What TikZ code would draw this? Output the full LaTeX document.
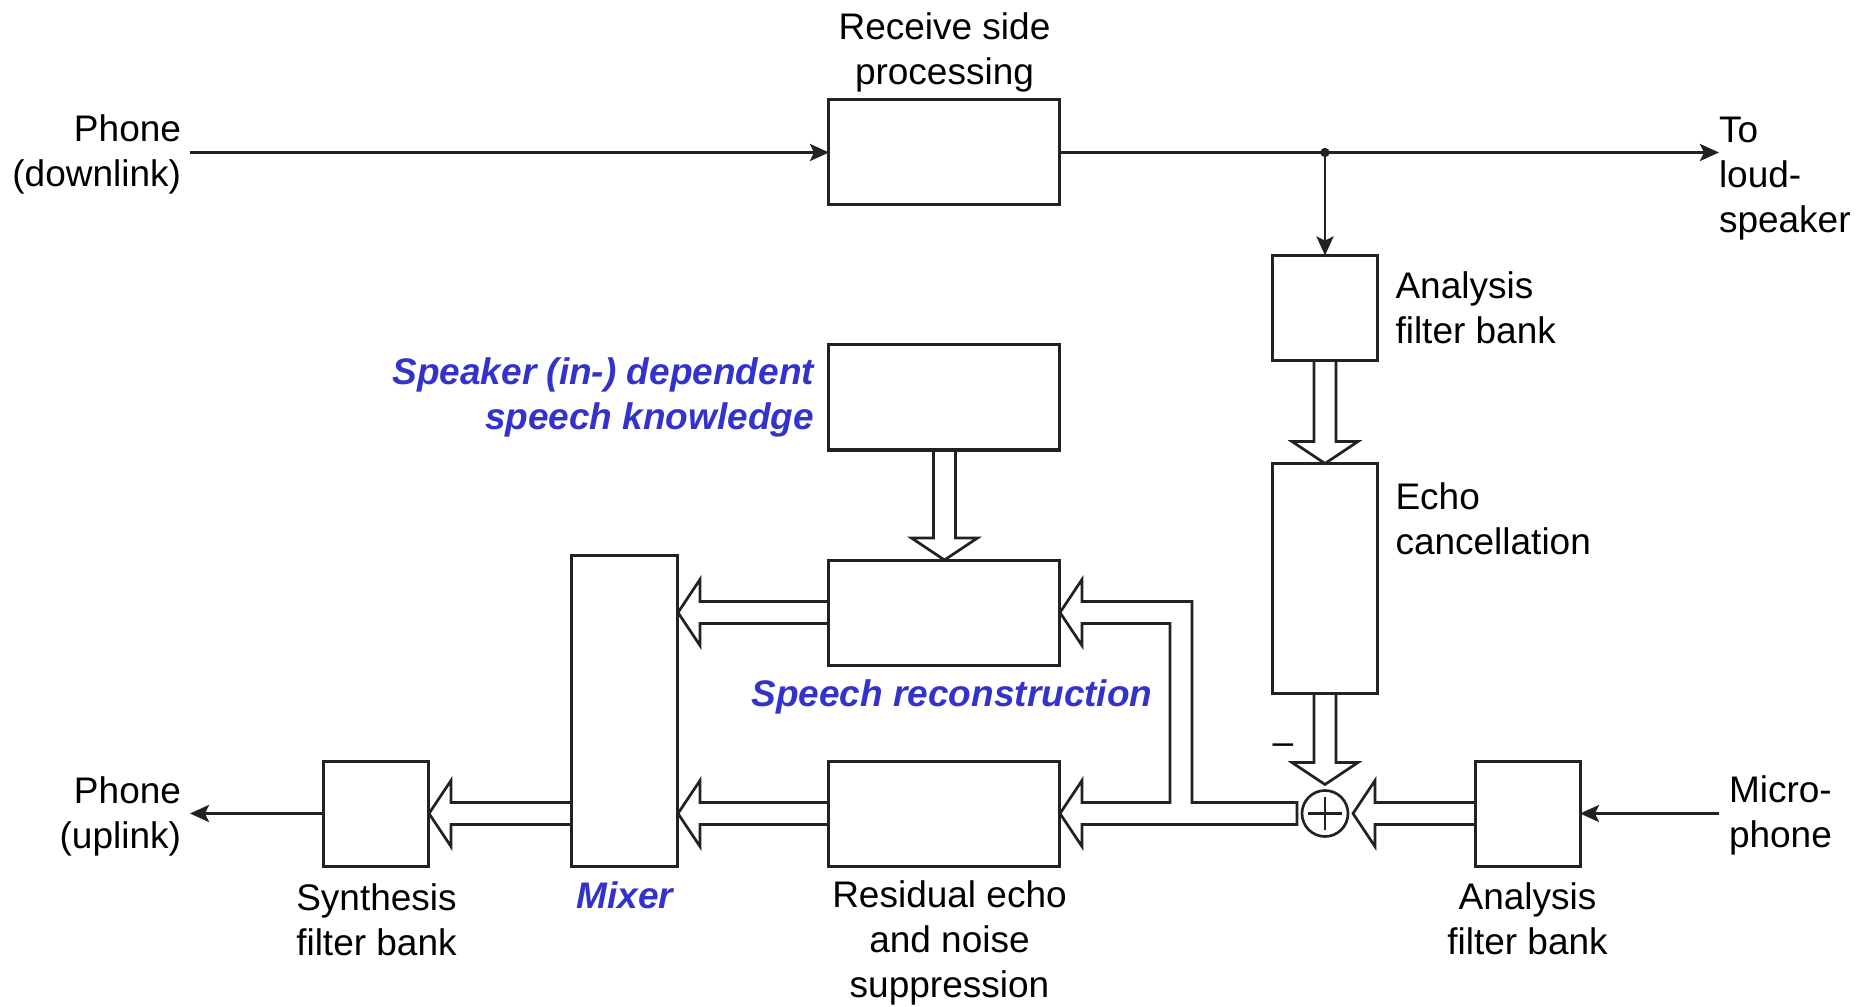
\documentclass[tikz,border=0pt]{standalone}
\usepackage{fontspec}
\setmainfont{Liberation Sans}
\usetikzlibrary{positioning,arrows.meta,calc}
\definecolor{KnowBlue}{HTML}{3333CC}
\definecolor{LineGray}{HTML}{222222}
\newcommand{\shaftw}{3.3pt}
\newcommand{\headw}{9.9pt}
\newcommand{\headl}{6.6pt}

\begin{document}
\begin{tikzpicture}[
  font=\fontsize{11.1}{13.5}\selectfont,
  >={Stealth[length=5.7pt,width=5.1pt,inset=1.2pt]},
  % --- blocks ---
  blk/.style={draw=LineGray, line width=0.9pt, inner sep=0pt, outer sep=0pt},
  wblk/.style={blk, minimum width=69.3pt, minimum height=31.5pt},
  sqblk/.style={blk, minimum width=31.5pt, minimum height=31.5pt},
  sumnode/.style={circle, draw=LineGray, line width=0.8pt, minimum size=13.8pt,
    inner sep=0pt, outer sep=0pt,
    path picture={\draw[line width=0.8pt] (path picture bounding box.center)
      +(-5pt,0) -- +(5pt,0) +(0,-5pt) -- +(0,5pt);}},
  % --- texts ---
  lbl/.style={inner sep=0pt, outer sep=0pt, align=center, text=black},
  klbl/.style={lbl, text=KnowBlue, font=\fontsize{11.1}{13.5}\selectfont\bfseries\itshape},
  % --- connectors ---
  sig/.style={->, draw=LineGray, line width=0.8pt},
  hollowline/.style={draw=LineGray, line width=0.8pt, line join=miter},
  hollow/.style={hollowline, to path={
    ($(\tikztostart)!\shaftw!90:(\tikztotarget)$)
    -- ($(\tikztotarget)!\headl!(\tikztostart)!\shaftw!-90:(\tikztostart)$)
    -- ($(\tikztotarget)!\headl!(\tikztostart)!\headw!-90:(\tikztostart)$)
    -- (\tikztotarget)
    -- ($(\tikztotarget)!\headl!(\tikztostart)!\headw!90:(\tikztostart)$)
    -- ($(\tikztotarget)!\headl!(\tikztostart)!\shaftw!90:(\tikztostart)$)
    -- ($(\tikztostart)!\shaftw!-90:(\tikztotarget)$)}},
]
\useasboundingbox (-283.35pt,-256.35pt) rectangle (276.15pt,45.75pt);

% =================== MIDDLE COLUMN ===================
\node[wblk] (recv) at (0,0) {};
\node[lbl, above=2.2pt of recv] (recvT) {Receive side\\processing};

\node[wblk, below=42pt of recv] (know) {};
\node[klbl, align=right, left=4.5pt of know] (knowT) {Speaker (in-) dependent\\speech knowledge};

\node[wblk, below=33pt of know] (speech) {};
\node[klbl, below=4.5pt of speech, xshift=2.25pt] (speechT) {Speech reconstruction};

\node[wblk, below=28.8pt of speech] (resid) {};
\node[lbl, below=4.5pt of resid, xshift=1.5pt] (residT) {Residual echo\\and noise\\suppression};

% =================== LEFT SIDE ===================
\node[blk, minimum width=31.8pt, minimum height=93.3pt,
  left=45.3pt of resid.south west, anchor=south east] (mixer) {};
\node[klbl, below=4.8pt of mixer] (mixerT) {Mixer};

\node[sqblk, left=42.9pt of mixer.south west, anchor=south east] (synth) {};
\node[lbl, below=5.4pt of synth] (synthT) {Synthesis\\filter bank};

% =================== RIGHT SIDE ===================
\coordinate[right=79.5pt of recv.east] (split);
\node[sqblk, below=30.9pt of split] (aftop) {};
\node[lbl, align=left, right=5.4pt of aftop] (aftopT) {Analysis\\filter bank};

\node[blk, minimum width=31.5pt, minimum height=69pt, below=30.9pt of aftop] (echo) {};
\node[lbl, align=left, right=5.4pt of echo.north east, anchor=north west, yshift=-5.7pt] (echoT) {Echo\\cancellation};

\node[sumnode, below=29.1pt of echo] (sum) {};
\node[lbl] (minus) at ($(sum.center)+(-12.6pt,19.2pt)$) {--};
\coordinate (sumN) at ($(sum.north)+(0,1.8pt)$);
\coordinate (sumE) at ($(sum.east)+(1.5pt,0)$);

\node[sqblk, right=38.1pt of sum] (afbot) {};
\node[lbl, below=5pt of afbot] (afbotT) {Analysis\\filter bank};

% =================== TERMINALS ===================
\coordinate[left=191.7pt of recv.west] (inL);
\node[lbl, align=right, left=2.7pt of inL, yshift=-0.7pt] (inT) {Phone\\(downlink)};
\coordinate[right=197.7pt of recv.east] (outR);
\node[lbl, align=left, right=0pt of outR, yshift=-7.8pt] (outT) {To\\loud-\\speaker};
\coordinate[left=40.2pt of synth.west] (outL);
\node[lbl, align=right, left=2.7pt of outL, yshift=-0.8pt] (upT) {Phone\\(uplink)};
\coordinate[right=41.7pt of afbot.east] (micL);
\node[lbl, align=left, right=3pt of micL, yshift=-0.6pt] (micT) {Micro-\\phone};

\coordinate (mixS) at (speech.west -| mixer.east);
\coordinate (mixR) at (resid.west -| mixer.east);
\coordinate (mixO) at (synth.east -| mixer.west);

% =================== SIGNAL LINES ===================
\draw[sig] (inL) -- (recv.west);
\draw[sig] (recv.east) -- (outR);
\fill[LineGray] (split) circle (1.4pt);
\draw[sig] (split) -- (aftop.north);
\draw[sig] (synth.west) -- (outL);
\draw[sig] (micL) -- (afbot.east);

% =================== SUBBAND (HOLLOW) ARROWS ===================
\draw[hollow] (know.south) to (speech.north);
\draw[hollow] (aftop.south) to (echo.north);
\draw[hollow] (echo.south) to (sumN);
\draw[hollow] (afbot.west) to (sumE);
\draw[hollow] (speech.west) to (mixS);
\draw[hollow] (resid.west) to (mixR);
\draw[hollow] (mixO) to (synth.east);

% error signal branches to reconstruction and suppression
\draw[hollowline] ($(sum.west)+(-1.5pt,3.3pt)$) -| ($(speech.east)+(39.6pt,3.3pt)$)
  -- ++(-33pt,0) -- ++(0,6.6pt) -- (speech.east) -- ++(6.6pt,-9.9pt) -- ++(0,6.6pt)
  -| ($(resid.east)+(33pt,3.3pt)$)
  -- ++(-26.4pt,0) -- ++(0,6.6pt) -- (resid.east) -- ++(6.6pt,-9.9pt) -- ++(0,6.6pt)
  -- ($(sum.west)+(-1.5pt,-3.3pt)$) -- cycle;

\end{tikzpicture}
\end{document}
